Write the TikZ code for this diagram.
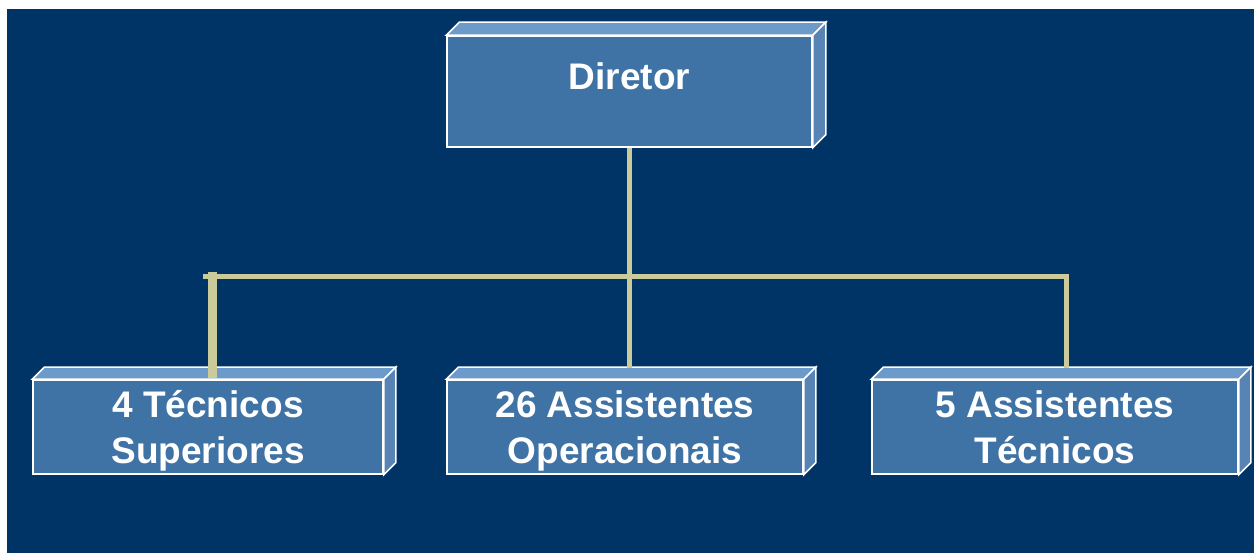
\documentclass[tikz,border=0pt]{standalone}
\usepackage{fontspec}
\setmainfont{Liberation Sans}
\definecolor{navy}{HTML}{003366}
\definecolor{front}{HTML}{4073A5}
\definecolor{topface}{HTML}{6C9BCB}
\definecolor{sideface}{HTML}{5783B5}
\definecolor{khaki}{HTML}{CACA9A}
\newcommand\boxfaces[2]{%
  \filldraw[face, fill=topface] (#1.north west) -- ++(#2,-#2) -- ([shift={(#2,-#2)}]#1.north east) -- (#1.north east) -- cycle;
  \filldraw[face, fill=sideface] (#1.north east) -- ++(#2,-#2) -- ([shift={(#2,-#2)}]#1.south east) -- (#1.south east) -- cycle;
}
\tikzset{
  face/.style={draw=white, line width=1.5pt, line join=miter},
  orgbox/.style={draw=white, line width=1.5pt, fill=front, inner sep=0pt,
    minimum height=92pt, text=white, align=center, text height=84pt, text depth=10pt,
    font=\fontsize{37}{47}\selectfont\bfseries},
  conn/.style={draw=khaki, line width=5pt},
}
\begin{document}
\begin{tikzpicture}[x=1pt,y=-1pt]
\useasboundingbox (0,0) rectangle (1254,553);
\fill[white] (0,0) rectangle (1254,553);
\fill[navy] (7,9) rectangle (1254,553);
% boxes
\node[orgbox, minimum width=365pt, minimum height=111pt, text height=0pt, text depth=0pt] (dir) at (629.5,91.5) {};
\boxfaces{dir}{13}
\node[text=white, font=\fontsize{37}{47}\selectfont\bfseries] (dirtext) at (629.5,76) {Diretor};
\node[orgbox, minimum width=350pt] (c1) at (208,427) {4 Técnicos\\Superiores};
\boxfaces{c1}{12}
\node[orgbox, minimum width=356pt] (c2) at (625,427) {26 Assistentes\\Operacionais};
\boxfaces{c2}{12}
\node[orgbox, minimum width=366pt] (c3) at (1055,427) {5 Assistentes\\Técnicos};
\boxfaces{c3}{12}
% connectors
\coordinate (busl) at (203,276.5);
\coordinate (busr) at (1066,276.5);
\coordinate (c1top) at (212,378);
\draw[conn] (dir.south) -- ([yshift=11pt]dir.south |- c2.north);
\draw[conn] (busl) -- (busr) -- ([yshift=11pt]busr |- c3.north);
\draw[conn, line width=9pt] (212,272) -- (c1top);
\end{tikzpicture}
\end{document}
